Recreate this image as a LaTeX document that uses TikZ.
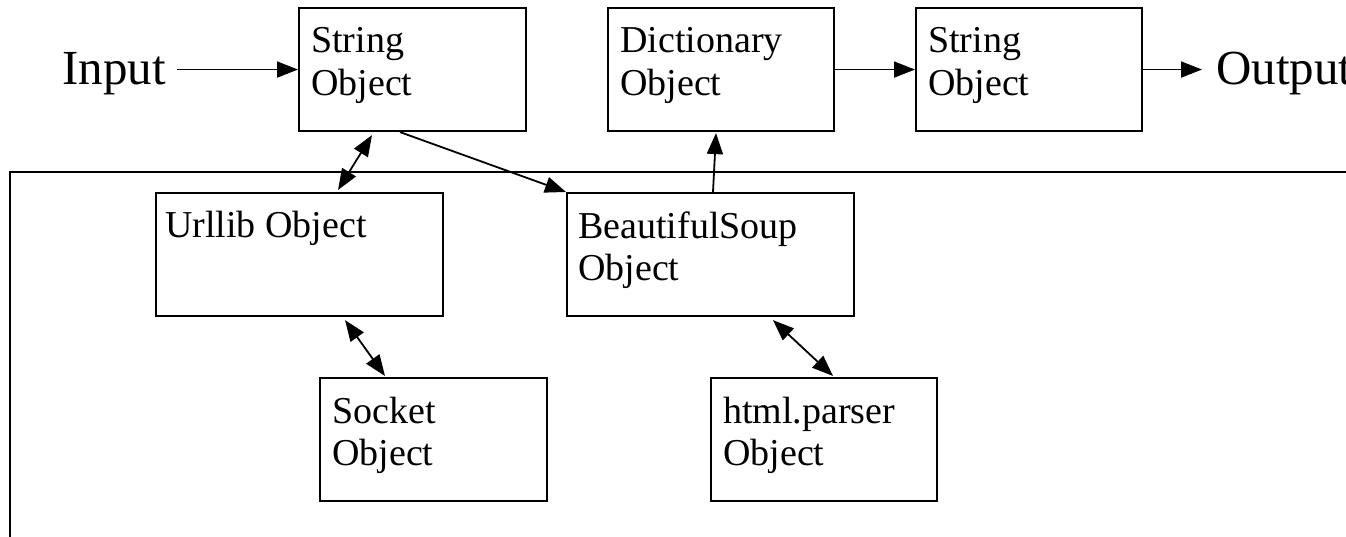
\documentclass[tikz,border=0pt]{standalone}
\usepackage{fontspec}
\setmainfont{Liberation Serif}
\usetikzlibrary{arrows.meta,calc}
\begin{document}
\begin{tikzpicture}[x=1pt,y=-1pt,
  objbox/.style={draw, line width=2.1pt, minimum height=123pt, anchor=north west, inner sep=0pt},
  objtext/.style={anchor=base west, align=left, inner sep=0pt, font=\fontsize{38}{42.5}\selectfont},
  io/.style={anchor=base west, inner sep=0pt, font=\fontsize{49}{50}\selectfont},
  tip/.tip={Triangle[length=21pt,width=16pt]},
  link/.style={line width=1.8pt, -tip},
  both/.style={line width=1.8pt, tip-tip},
  frameline/.style={line width=2.1pt}]
\clip (0,0) rectangle (1346,537);
\useasboundingbox (0,0) rectangle (1346,537);

% enclosing frame (open towards the right and bottom)
\coordinate (fl) at (10,537);
\coordinate (fc) at (10,172);
\coordinate (fr) at (1346,172);
\draw[frameline] (fl) -- (fc) -- (fr);

% object boxes
\node[objbox, minimum width=227pt] (str1)   at (298,7)   {};
\node[objbox, minimum width=226pt] (dict)   at (607,7)   {};
\node[objbox, minimum width=226pt] (str2)   at (915,7)   {};
\node[objbox, minimum width=287pt] (urllib) at (155,192) {};
\node[objbox, minimum width=287pt] (bsoup)  at (566,192) {};
\node[objbox, minimum width=227pt] (socket) at (319,377) {};
\node[objbox, minimum width=226pt] (parser) at (710,377) {};

% box captions (anchored at the baseline of their last line)
\node[objtext] (str1t)   at ($(str1.north west)+(13,88.5)$)   {String\\Object};
\node[objtext] (dictt)   at ($(dict.north west)+(13,88.5)$)   {Dictionary\\Object};
\node[objtext] (str2t)   at ($(str2.north west)+(13,88.5)$)   {String\\Object};
\node[objtext] (urllibt) at ($(urllib.north west)+(10,46)$)   {Urllib Object};
\node[objtext] (bsoupt)  at ($(bsoup.north west)+(12,88.5)$)  {BeautifulSoup\\Object};
\node[objtext] (sockett) at ($(socket.north west)+(13,88.5)$) {Socket\\Object};
\node[objtext] (parsert) at ($(parser.north west)+(13,88.5)$) {html.parser\\Object};

% input / output
\node[io] (in)  at (62,85)   {Input};
\node[io] (out) at (1216,85) {Output};

% connectors
\draw[link] ([xshift=11pt]in.east |- str1.west) -- (str1.west);
\draw[link] (dict.east) -- (str2.west);
\draw[link] (str2.east) -- ([xshift=-14pt]out.west |- str2.east);
\draw[both] ($(str1.south west)+(74,3)$) -- ($(urllib.north west)+(183,-2)$);
\draw[link] ($(str1.south west)+(102,0)$) -- (bsoup.north west);
\draw[link] ($(bsoup.north west)+(147,0)$) -- ($(dict.south west)+(109,1)$);
\draw[both] ($(urllib.south west)+(190,3)$) -- ($(socket.north west)+(66,-1)$);
\draw[both] ($(bsoup.south west)+(207,3)$) -- ($(parser.north west)+(123,-1)$);
\end{tikzpicture}
\end{document}
